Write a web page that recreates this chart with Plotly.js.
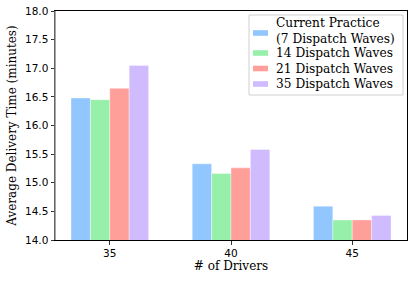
<!DOCTYPE html>
<html>
<head>
<meta charset="utf-8">
<script src="https://cdn.plot.ly/plotly-3.0.1.min.js"></script>
<style>html,body{margin:0;padding:0;background:#fff;} #chart{width:415px;height:282px;}</style>
</head>
<body>
<div id="chart"></div>
<script>
const drivers = [35, 40, 45];
const seriesNames = ["Current Practice<br>(7 Dispatch Waves)", "14 Dispatch Waves", "21 Dispatch Waves", "35 Dispatch Waves"];
const currentPractice = [16.48, 15.33, 14.59];
const waves14 = [16.45, 15.16, 14.35];
const waves21 = [16.65, 15.26, 14.35];
const waves35 = [17.05, 15.58, 14.43];
const colors = ["#92C6FF", "#97F0AA", "#FF9F9A", "#D0BBFF"];
const yTicks = [14.0, 14.5, 15.0, 15.5, 16.0, 16.5, 17.0, 17.5, 18.0];

const W = 415, H = 282;
const M = {l: 55, r: 8, t: 11, b: 42};
const pw = W - M.l - M.r, ph = H - M.t - M.b;
const px = x => (x - M.l) / pw;          // pixel -> paper x
const py = y => (H - M.b - y) / ph;      // pixel -> paper y

const SERIF = "'DejaVu Serif', serif";
const SANS = "'DejaVu Sans', sans-serif";

const values = [currentPractice, waves14, waves21, waves35];
const traces = values.map((v, i) => ({
  type: "bar",
  x: drivers,
  y: v,
  name: seriesNames[i],
  marker: {color: colors[i], line: {color: "rgba(255,255,255,0.6)", width: 0.6}},
  hoverinfo: "none"
}));

// manual legend (matplotlib style)
const legendRows = [33, 53, 68.5, 84];   // swatch centre rows in px
const shapes = [
  {type: "line", xref: "paper", yref: "paper", x0: 0, x1: 0, y0: 0, y1: 1, line: {color: "#888888", width: 1.5}},
  {type: "rect", xref: "paper", yref: "paper", x0: px(249), x1: px(403), y0: py(95), y1: py(15),
   fillcolor: "rgba(255,255,255,0.8)", line: {color: "#d0d0d0", width: 1}}
];
const annotations = [];
seriesNames.forEach((name, i) => {
  const r = legendRows[i];
  shapes.push({type: "rect", xref: "paper", yref: "paper", x0: px(253), x1: px(268), y0: py(r + 2.8), y1: py(r - 2.8),
    fillcolor: colors[i], line: {width: 0}});
  annotations.push({xref: "paper", yref: "paper", x: px(274), y: py(i === 0 ? 30.5 : r), xanchor: "left", yanchor: "middle",
    text: name, showarrow: false, align: "left", font: {family: SERIF, size: 12.2, color: "#000"}});
});

const layout = {
  width: W, height: H,
  margin: M,
  paper_bgcolor: "#fff", plot_bgcolor: "#fff",
  barmode: "group", bargap: 0.36, bargroupgap: 0,
  showlegend: false,
  xaxis: {
    range: [32.74, 47.26], tickvals: drivers, ticktext: drivers.map(String),
    ticks: "outside", ticklen: 3.5, tickcolor: "#000", tickwidth: 0.8,
    showgrid: false, zeroline: false,
    showline: true, linecolor: "#000", linewidth: 1, mirror: true,
    tickfont: {family: SANS, size: 10.5, color: "#000"},
    title: {text: "# of Drivers", font: {family: SERIF, size: 12, color: "#000"}, standoff: 2}
  },
  yaxis: {
    range: [14, 18], tickvals: yTicks, ticktext: yTicks.map(t => t.toFixed(1)),
    ticks: "outside", ticklen: 3.5, tickcolor: "#000", tickwidth: 0.8,
    showgrid: false, zeroline: false,
    showline: true, linecolor: "#000", linewidth: 1, mirror: true,
    tickfont: {family: SANS, size: 10.5, color: "#000"},
    title: {text: "Average Delivery Time (minutes)", font: {family: SERIF, size: 12, color: "#000"}, standoff: 5}
  },
  shapes: shapes,
  annotations: annotations
};

Plotly.newPlot("chart", traces, layout, {displayModeBar: false, staticPlot: true});
</script>
</body>
</html>
